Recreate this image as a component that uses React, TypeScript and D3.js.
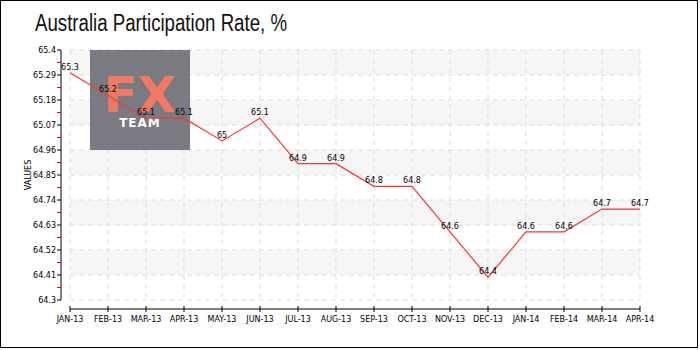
import React from 'react'
import * as d3 from 'd3'

const months = ['JAN-13', 'FEB-13', 'MAR-13', 'APR-13', 'MAY-13', 'JUN-13', 'JUL-13', 'AUG-13', 'SEP-13', 'OCT-13', 'NOV-13', 'DEC-13', 'JAN-14', 'FEB-14', 'MAR-14', 'APR-14']
const rates = [65.3, 65.2, 65.1, 65.1, 65.0, 65.1, 64.9, 64.9, 64.8, 64.8, 64.6, 64.4, 64.6, 64.6, 64.7, 64.7]
const yTicks = [64.3, 64.41, 64.52, 64.63, 64.74, 64.85, 64.96, 65.07, 65.18, 65.29, 65.4]

const width = 700
const height = 350
const margin = { top: 50, right: 60, bottom: 50, left: 70 }
const tickFont = '"DejaVu Sans", sans-serif'

export default function App() {
  const x = d3.scalePoint<string>()
    .domain(months)
    .range([margin.left, width - margin.right])

  const y = d3.scaleLinear()
    .domain([64.3, 65.4])
    .range([height - margin.bottom, margin.top])

  const line = d3.line<number>()
    .x((_, i) => x(months[i]) as number)
    .y(d => y(d))

  const x0 = margin.left
  const x1 = width - margin.right
  const axisX = 61
  const axisY = 309
  const fmt = (v: number) => (Math.round(v * 100) / 100).toString()

  // red half-step ticks between the labelled ones
  const minor = yTicks.slice(0, -1).map((t, i) => (t + yTicks[i + 1]) / 2)

  return (
    <>
      <style>{'body{margin:0}'}</style>
      <svg width={width} height={height} style={{ display: 'block' }}>
        <rect x={0.5} y={0.5} width={width - 3} height={height - 3} fill="#fff" stroke="#000" />
        <text x={35} y={31} fontFamily='"Liberation Sans", sans-serif' fontSize={23} fill="#111"
          textLength={252} lengthAdjust="spacingAndGlyphs">
          Australia Participation Rate, %
        </text>

        {/* alternating bands */}
        {yTicks.slice(0, -1).map((t, i) => (i % 2 === 1 ? (
          <rect key={'b' + i} x={x0} y={y(yTicks[i + 1])} width={x1 - x0} height={y(t) - y(yTicks[i + 1])} fill="#f6f6f6" />
        ) : null))}

        {/* grid */}
        {yTicks.map(t => (
          <line key={'h' + t} x1={x0} x2={x1} y1={y(t)} y2={y(t)} stroke="#ddd" strokeDasharray="5,4" />
        ))}
        {months.map(m => (
          <line key={'v' + m} x1={x(m)} x2={x(m)} y1={margin.top} y2={height - margin.bottom} stroke="#ddd" strokeDasharray="5,4" />
        ))}

        {/* logo */}
        <rect x={90} y={50} width={100} height={100} fill="#7a7a82" />
        <text x={140} y={112} textAnchor="middle" fontFamily='"DejaVu Sans", sans-serif' fontWeight="bold" fontSize={50} fill="#f27a62">FX</text>
        <text x={140} y={127} textAnchor="middle" fontFamily='"DejaVu Sans", sans-serif' fontWeight="bold" fontSize={12} fill="#fff" letterSpacing={1}>TEAM</text>

        {/* y axis */}
        <line x1={axisX} x2={axisX} y1={y(65.4)} y2={y(64.3)} stroke="#000" />
        {minor.map(t => (
          <line key={'m' + t} x1={axisX - 4} x2={axisX} y1={y(t)} y2={y(t)} stroke="#e00" />
        ))}
        {yTicks.map(t => (
          <g key={'yt' + t}>
            <line x1={axisX - 4} x2={axisX} y1={y(t)} y2={y(t)} stroke="#000" />
            <text x={axisX - 5} y={y(t) + 3} textAnchor="end" fontFamily={tickFont} fontSize={8} fill="#000">{fmt(t)}</text>
          </g>
        ))}
        <text transform={`translate(31,${(margin.top + height - margin.bottom) / 2}) rotate(-90)`} textAnchor="middle" fontFamily={tickFont} fontSize={8} fill="#000">VALUES</text>

        {/* x axis */}
        <line x1={x0} x2={x1} y1={axisY} y2={axisY} stroke="#000" />
        {months.map(m => (
          <g key={'xt' + m}>
            <line x1={x(m)} x2={x(m)} y1={axisY - 3} y2={axisY + 3} stroke="#000" />
            <text x={x(m)} y={axisY + 13} textAnchor="middle" fontFamily={tickFont} fontSize={8} fill="#000">{m}</text>
          </g>
        ))}

        {/* series */}
        <path d={line(rates) || ''} fill="none" stroke="#ff3333" strokeWidth={1.2} />
        {rates.map((v, i) => (
          <text key={'l' + i} x={x(months[i])} y={y(v) - 3} textAnchor="middle" fontFamily={tickFont} fontSize={8} fill="#000">{fmt(v)}</text>
        ))}
      </svg>
    </>
  )
}
